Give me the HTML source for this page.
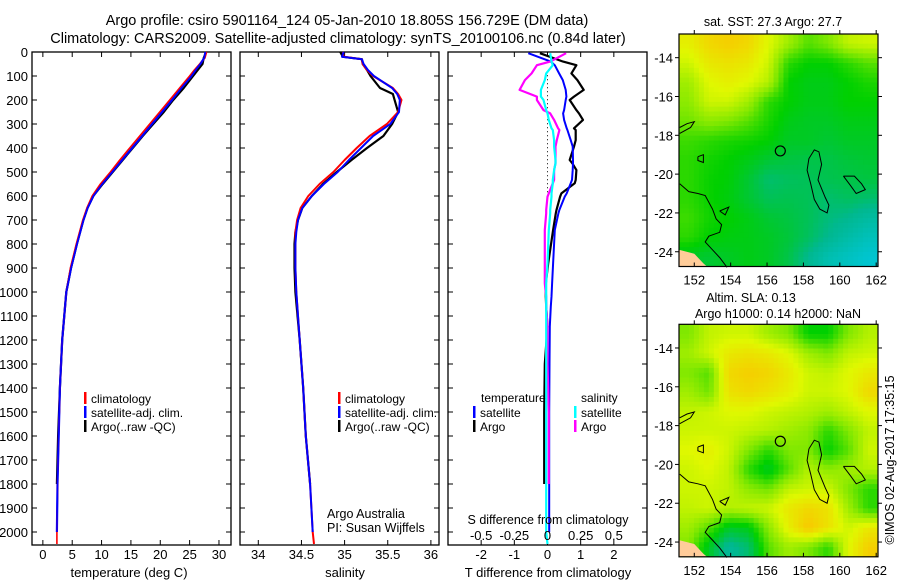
<!DOCTYPE html>
<html><head><meta charset="utf-8">
<style>
html,body{margin:0;padding:0;background:#fff;}
svg{display:block;font-family:"Liberation Sans",sans-serif;}
text{fill:#000;}
</style></head>
<body>
<svg id="chart" width="900" height="580" viewBox="0 0 900 580" xmlns="http://www.w3.org/2000/svg">
<g id="titles">
<text x="347" y="25" font-size="14.5" text-anchor="middle">Argo profile: csiro 5901164_124 05-Jan-2010 18.805S 156.729E (DM data)</text>
<text x="338" y="43" font-size="14.5" text-anchor="middle">Climatology: CARS2009. Satellite-adjusted climatology: synTS_20100106.nc (0.84d later)</text>
</g>
<g id="layer"></g>
</svg>
<script>
// ---------- profile data ----------
const depthT = [0,25,50,75,100,150,200,250,300,350,400,450,500,550,600,650,700,800,900,1000,1200,1400,1600,1800,2000,2050];
const tempClim = [27.9,27.6,26.7,25.8,25.0,23.3,21.6,19.9,18.2,16.5,14.8,13.1,11.5,9.8,8.4,7.5,6.8,5.7,4.7,4.0,3.3,2.9,2.7,2.5,2.4,2.4];
const tempSat  = [27.7,27.5,26.8,26.0,25.3,23.6,22.0,20.3,18.6,16.9,15.2,13.5,11.8,10.1,8.6,7.6,6.9,5.8,4.8,4.0,3.3,2.9,2.7,2.5,2.4,null];
const tempArgo = [27.8,27.4,27.2,26.4,25.6,24.0,22.2,20.6,18.8,17.0,15.3,13.6,11.9,10.2,8.6,7.6,6.9,5.8,4.8,4.0,3.3,2.9,2.6,2.4,null,null];

const depthS = [0,20,30,50,75,100,150,175,200,250,300,350,400,450,500,550,600,650,700,750,800,900,1000,1200,1400,1600,1800,2000,2050];
const salClim = [34.98,34.99,35.2,35.21,35.26,35.33,35.56,35.62,35.66,35.62,35.49,35.29,35.14,35.0,34.87,34.71,34.58,34.49,34.45,34.43,34.43,34.43,34.44,34.48,34.52,34.55,34.6,34.63,34.645];
const salSat  = [34.99,34.97,35.2,35.22,35.27,35.34,35.55,35.61,35.64,35.63,35.53,35.33,35.19,35.05,34.92,34.76,34.62,34.51,34.46,34.44,34.43,34.43,34.44,34.48,34.52,34.55,34.6,34.63,null];
const salArgo = [34.95,34.98,35.2,35.21,35.26,35.3,35.41,35.56,35.58,35.62,35.55,35.45,35.26,35.08,34.91,34.75,34.62,34.51,34.46,34.43,34.42,34.42,34.43,34.48,34.52,34.55,34.6,null,null];

const depthD = [5,40,55,89,117,158,186,200,242,256,283,318,325,367,394,450,464,492,533,547,589,603,658,672,742,881,964,1019,1061,1144,1300,1500,1700,1800,2000,2050];
const tdiffSat  = [-0.58,0.1,0.22,0.35,0.46,0.55,0.57,0.55,0.5,0.47,0.5,0.58,0.6,0.7,0.76,0.77,0.77,0.76,0.74,0.7,0.58,0.52,0.36,0.33,0.22,0.17,0.14,0.12,0.1,0.07,0.06,0.05,0.05,0.05,0.05,null];
const tdiffArgo = [-0.23,0.47,0.87,0.72,0.9,1.09,0.8,0.67,0.87,0.95,1.07,0.8,0.85,0.85,0.8,0.67,0.75,0.87,0.85,0.82,0.42,0.38,0.27,0.25,0.17,0.02,-0.05,-0.05,-0.04,0.0,-0.08,-0.1,-0.1,-0.1,null,null];
const sdiffSat  = [0.02,0.03,0.04,-0.01,-0.02,-0.05,-0.05,-0.03,-0.01,0.0,0.01,0.03,0.04,0.05,0.05,0.06,0.06,0.05,0.04,0.04,0.03,0.03,0.02,0.02,0.01,0.0,-0.01,-0.01,-0.01,-0.01,-0.01,-0.01,-0.01,-0.01,-0.01,0.0];
const sdiffArgo = [0.14,0.02,-0.08,-0.12,-0.17,-0.21,-0.08,-0.08,-0.03,0.02,0.05,0.08,0.09,0.07,0.06,0.06,0.06,0.05,0.05,0.04,0.01,0.0,-0.01,-0.01,-0.02,-0.02,-0.02,-0.01,-0.01,0.0,0.0,0.01,0.01,0.01,null,null];

const depthTicks = [0,100,200,300,400,500,600,700,800,900,1000,1100,1200,1300,1400,1500,1600,1700,1800,1900,2000];
const tempTicks = [0,5,10,15,20,25,30];
const salTicks = [34,34.5,35,35.5,36];
const tdiffTicks = [-2,-1,0,1,2];
const sdiffTicks = [-0.5,-0.25,0,0.25,0.5];

// ---------- map data (10 lon x 12 lat nodes, colour index 0..1) ----------
const lonTicks = [152,154,156,158,160,162];
const latTicks = [-14,-16,-18,-20,-22,-24];
const sstGrid = [
[0.78,0.85,0.88,0.85,0.75,0.65,0.55,0.6,0.7,0.72],
[0.72,0.8,0.82,0.8,0.72,0.5,0.45,0.45,0.5,0.55],
[0.65,0.75,0.78,0.75,0.68,0.45,0.42,0.42,0.45,0.48],
[0.62,0.72,0.72,0.65,0.5,0.45,0.42,0.42,0.45,0.45],
[0.58,0.62,0.6,0.55,0.48,0.42,0.4,0.4,0.42,0.42],
[0.52,0.5,0.48,0.47,0.45,0.4,0.4,0.38,0.4,0.4],
[0.5,0.47,0.45,0.42,0.38,0.36,0.35,0.35,0.37,0.38],
[0.5,0.46,0.44,0.38,0.3,0.32,0.33,0.34,0.35,0.36],
[0.5,0.46,0.43,0.38,0.33,0.34,0.33,0.3,0.32,0.3],
[0.52,0.47,0.45,0.42,0.38,0.36,0.33,0.28,0.25,0.2],
[0.5,0.45,0.43,0.42,0.4,0.37,0.32,0.25,0.18,0.12],
[0.4,0.38,0.4,0.42,0.4,0.35,0.25,0.15,0.1,0.05]];
const slaGrid = [
[0.6,0.7,0.72,0.72,0.65,0.6,0.45,0.45,0.6,0.68],
[0.65,0.72,0.8,0.82,0.8,0.75,0.65,0.6,0.7,0.72],
[0.6,0.55,0.85,0.88,0.86,0.8,0.72,0.7,0.75,0.8],
[0.65,0.58,0.82,0.85,0.82,0.78,0.72,0.72,0.75,0.85],
[0.7,0.72,0.75,0.75,0.72,0.7,0.68,0.65,0.7,0.75],
[0.72,0.72,0.72,0.7,0.68,0.65,0.62,0.5,0.6,0.7],
[0.75,0.78,0.72,0.6,0.5,0.6,0.6,0.45,0.55,0.72],
[0.72,0.75,0.7,0.5,0.4,0.55,0.68,0.62,0.65,0.68],
[0.72,0.72,0.7,0.62,0.58,0.7,0.72,0.72,0.6,0.5],
[0.7,0.72,0.68,0.7,0.72,0.8,0.85,0.82,0.65,0.5],
[0.65,0.55,0.4,0.42,0.62,0.78,0.9,0.82,0.72,0.8],
[0.6,0.4,0.22,0.3,0.55,0.65,0.6,0.5,0.75,0.88]];
const argoLon = 156.729, argoLat = -18.805;

// ---------- helpers ----------
const NS='http://www.w3.org/2000/svg';
const layer=document.getElementById('layer');
function el(tag,attrs,parent){const e=document.createElementNS(NS,tag);for(const k in attrs)e.setAttribute(k,attrs[k]);(parent||layer).appendChild(e);return e;}
function txt(x,y,s,size,anchor,parent){const t=el('text',{x:x,y:y,'font-size':size,'text-anchor':anchor||'start'},parent);t.textContent=s;return t;}

const PT=52, PB=545;
const yD = d => PT + d*0.24;

function panel(name,x0,x1,xmin,xmax){
  const g=el('g',{});
  
  
  el('rect',{x:x0,y:PT,width:x1-x0,height:PB-PT,fill:'none',stroke:'#000','stroke-width':1.3},g);
  return {g:g,x:v=>x0+(v-xmin)/(xmax-xmin)*(x1-x0),x0:x0,x1:x1};
}
function line(p,vals,depths,color,w,name){
  let d='',pen=false;
  for(let i=0;i<vals.length;i++){
    if(vals[i]===null){pen=false;continue;}
    d+=(pen?'L':'M')+p.x(vals[i]).toFixed(1)+' '+yD(depths[i]).toFixed(1);pen=true;
  }
  const path=el('path',{d:d,fill:'none',stroke:color,'stroke-width':w,'stroke-linejoin':'round'},p.g);
  
  
}
function xticks(p,ticks,labels){
  ticks.forEach(v=>{const X=p.x(v);
    el('line',{x1:X,x2:X,y1:PB,y2:PB-5,stroke:'#000'},p.g);
    el('line',{x1:X,x2:X,y1:PT,y2:PT+5,stroke:'#000'},p.g);
    if(labels){const t=txt(X,559,String(v),13,'middle',p.g);
      
      }
  });
}
function yticks(p,labels){
  depthTicks.forEach(v=>{const Y=yD(v);
    el('line',{x1:p.x0,x2:p.x0+5,y1:Y,y2:Y,stroke:'#000'},p.g);
    el('line',{x1:p.x1,x2:p.x1-5,y1:Y,y2:Y,stroke:'#000'},p.g);
    if(labels){const t=txt(28,Y+5,String(v),13,'end',p.g);
      
      }
  });
}
function legend(p,x,y,items){
  items.forEach((it,i)=>{
    el('rect',{x:x,y:y+i*14-10,width:2.5,height:12,fill:it[1]},p.g);
    const t=txt(x+7,y+i*14+1,it[0],12,'start',p.g);
    
    
  });
}

// ---------- temperature panel ----------
const pT=panel('temperature-panel',32,231,-1.85,32.05);
yticks(pT,true); xticks(pT,tempTicks,true);
line(pT,tempArgo,depthT,'#000',2.2,'temp-argo-line');
line(pT,tempSat,depthT,'#00f',2.2,'temp-satellite-line');
line(pT,tempClim,depthT,'#f00',1.6,'temp-climatology-line');
line(pT,tempSat,depthT,'#00f',1.6,'temp-satellite-line-top');
legend(pT,84,402,[['climatology','#f00'],['satellite-adj. clim.','#00f'],['Argo(..raw -QC)','#000']]);
txt(129,577,'temperature (deg C)',13,'middle',pT.g);

// ---------- salinity panel ----------
const pS=panel('salinity-panel',240,439,33.788,36.094);
yticks(pS,false); xticks(pS,salTicks,true);
line(pS,salArgo,depthS,'#000',2.2,'sal-argo-line');
line(pS,salClim,depthS,'#f00',2,'sal-climatology-line');
line(pS,salSat,depthS,'#00f',2,'sal-satellite-line');
legend(pS,338,402,[['climatology','#f00'],['satellite-adj. clim.','#00f'],['Argo(..raw -QC)','#000']]);
txt(327,518,'Argo Australia',12.5,'start',pS.g);
txt(327,532,'PI: Susan Wijffels',12.5,'start',pS.g);
txt(345,577,'salinity',13,'middle',pS.g);

// ---------- difference panel ----------
const pD=panel('difference-panel',448,647,-3,3);
const pDs={g:pD.g,x:v=>pD.x(v*4),x0:448,x1:647};
yticks(pD,false); xticks(pD,tdiffTicks,true);
el('line',{x1:pD.x(0),x2:pD.x(0),y1:yD(80),y2:yD(600),stroke:'#000','stroke-dasharray':'1 3'},pD.g);
line(pD,tdiffArgo,depthD,'#000',2.2,'tdiff-argo-line');
line(pD,tdiffSat,depthD,'#00f',2,'tdiff-satellite-line');
line(pDs,sdiffArgo,depthD,'#f0f',2.2,'sdiff-argo-line');
line(pDs,sdiffSat,depthD,'#0ff',2.2,'sdiff-satellite-line');
txt(481,402,'temperature',12,'start',pD.g);
legend(pD,473,416,[['satellite','#00f'],['Argo','#000']]);
txt(581,402,'salinity',12,'start',pD.g);
legend(pD,574,416,[['satellite','#0ff'],['Argo','#f0f']]);
txt(548,524,'S difference from climatology',12.5,'middle',pD.g);
sdiffTicks.forEach(v=>{const t=txt(pDs.x(v),540,String(v),13,'middle',pD.g);
  
  });
txt(548,577,'T difference from climatology',13,'middle',pD.g);

// ---------- maps ----------
const stops=[[0,[0,200,224]],[0.25,[0,184,144]],[0.45,[0,208,0]],[0.6,[128,232,0]],[0.75,[224,248,0]],[0.9,[248,200,0]],[1,[240,160,0]]];
function cmap(v){for(let i=1;i<stops.length;i++){if(v<=stops[i][0]){const a=stops[i-1],b=stops[i],f=(v-a[0])/(b[0]-a[0]);
  return 'rgb('+a[1].map((c,k)=>Math.round(c+(b[1][k]-c)*f)).join(',')+')';}}return 'rgb(240,160,0)';}
function sample(grid,fr,fc){
  const nr=grid.length,nc=grid[0].length;
  fr=Math.max(0,Math.min(nr-1,fr));fc=Math.max(0,Math.min(nc-1,fc));
  const r0=Math.floor(fr),c0=Math.floor(fc),r1=Math.min(nr-1,r0+1),c1=Math.min(nc-1,c0+1),a=fr-r0,b=fc-c0;
  return grid[r0][c0]*(1-a)*(1-b)+grid[r0][c1]*(1-a)*b+grid[r1][c0]*a*(1-b)+grid[r1][c1]*a*b;
}

const coast=[
 [[151.2,-17.6],[151.6,-17.4],[152.0,-17.3],[151.8,-17.6],[151.2,-17.9]],
 [[151.2,-20.5],[151.7,-20.9],[152.2,-21.0],[152.6,-21.1],[153.0,-21.8],[153.2,-22.3],[153.5,-22.6],[153.4,-23.0],[152.8,-23.2],[152.6,-23.5],[153.0,-23.9],[153.4,-24.3],[153.8,-24.8]],
 [[158.3,-19.2],[158.6,-18.75],[158.85,-18.85],[159.0,-19.5],[158.8,-20.3],[159.2,-21.2],[159.4,-21.6],[159.3,-22.0],[158.9,-21.8],[158.6,-21.3],[158.4,-20.5],[158.2,-19.8],[158.3,-19.2]],
 [[160.2,-20.1],[160.8,-20.1],[161.2,-20.5],[161.4,-20.8],[160.9,-21.0],[160.6,-20.6],[160.2,-20.1]],
 [[153.4,-21.9],[153.9,-21.7],[153.7,-22.1],[153.4,-21.9]],
 [[152.2,-19.1],[152.5,-19.0],[152.5,-19.4],[152.2,-19.3],[152.2,-19.1]]
];

function drawMap(name,top,grid){
  const g=el('g',{});
  
  
  const L=679,R=878,T=top,B=top+232.5,lon0=151.16,lon1=162.1,lat0=-12.78,lat1=-24.76;
  const X=lo=>L+(lo-lon0)/(lon1-lon0)*(R-L), Y=la=>T+(la-lat0)/(lat1-lat0)*(B-T);
  const nr=grid.length,nc=grid[0].length,SUB=4,NR=nr*SUB,NC=nc*SUB,cw=(R-L)/NC,ch=(B-T)/NR;
  for(let r=0;r<NR;r++)for(let c=0;c<NC;c++){
    const v=sample(grid,(r+0.5)/SUB-0.5,(c+0.5)/SUB-0.5);
    const cell=el('rect',{x:(L+c*cw).toFixed(2),y:(T+r*ch).toFixed(2),width:(cw+0.5).toFixed(2),height:(ch+0.5).toFixed(2),fill:cmap(v)},g);
    
    
  }
  el('path',{d:`M${L} ${B} L${L} ${Y(-23.9)} L${X(152)} ${Y(-24.1)} L${X(152.5)} ${Y(-24.6)} L${X(152.7)} ${B} Z`,fill:'#ffcc99'},g);
  coast.forEach(c=>el('path',{d:c.map((p,i)=>(i?'L':'M')+X(p[0]).toFixed(1)+' '+Y(p[1]).toFixed(1)).join(''),fill:'none',stroke:'#000','stroke-width':1},g));
  const m=el('circle',{cx:X(argoLon),cy:Y(argoLat),r:5,fill:'none',stroke:'#000','stroke-width':1.2},g);
  
  
  el('rect',{x:L,y:T,width:R-L,height:B-T,fill:'none',stroke:'#000','stroke-width':1.2},g);
  lonTicks.forEach(v=>{const x=X(v);el('line',{x1:x,x2:x,y1:B,y2:B-4,stroke:'#000'},g);el('line',{x1:x,x2:x,y1:T,y2:T-4,stroke:'#000'},g);
    const t=txt(x,B+18,String(v),13,'middle',g);
    
    });
  latTicks.forEach(v=>{const y=Y(v);el('line',{x1:L,x2:L-4,y1:y,y2:y,stroke:'#000'},g);el('line',{x1:R,x2:R+4,y1:y,y2:y,stroke:'#000'},g);
    const t=txt(673,y+5,String(v),13,'end',g);
    
    });
  return g;
}
const m1=drawMap('sst-map',34,sstGrid);
txt(773,26,'sat. SST: 27.3 Argo: 27.7',12.5,'middle',m1);
const m2=drawMap('sla-map',324.3,slaGrid);
txt(751,302,'Altim. SLA: 0.13',12.5,'middle',m2);
txt(778,318,'Argo h1000: 0.14 h2000: NaN',12.5,'middle',m2);
const ts=txt(0,0,'\u00a9IMOS 02-Aug-2017 17:35:15',12.5,'middle');
ts.setAttribute('transform','translate(894,460) rotate(-90)');


</script>
</body></html>
